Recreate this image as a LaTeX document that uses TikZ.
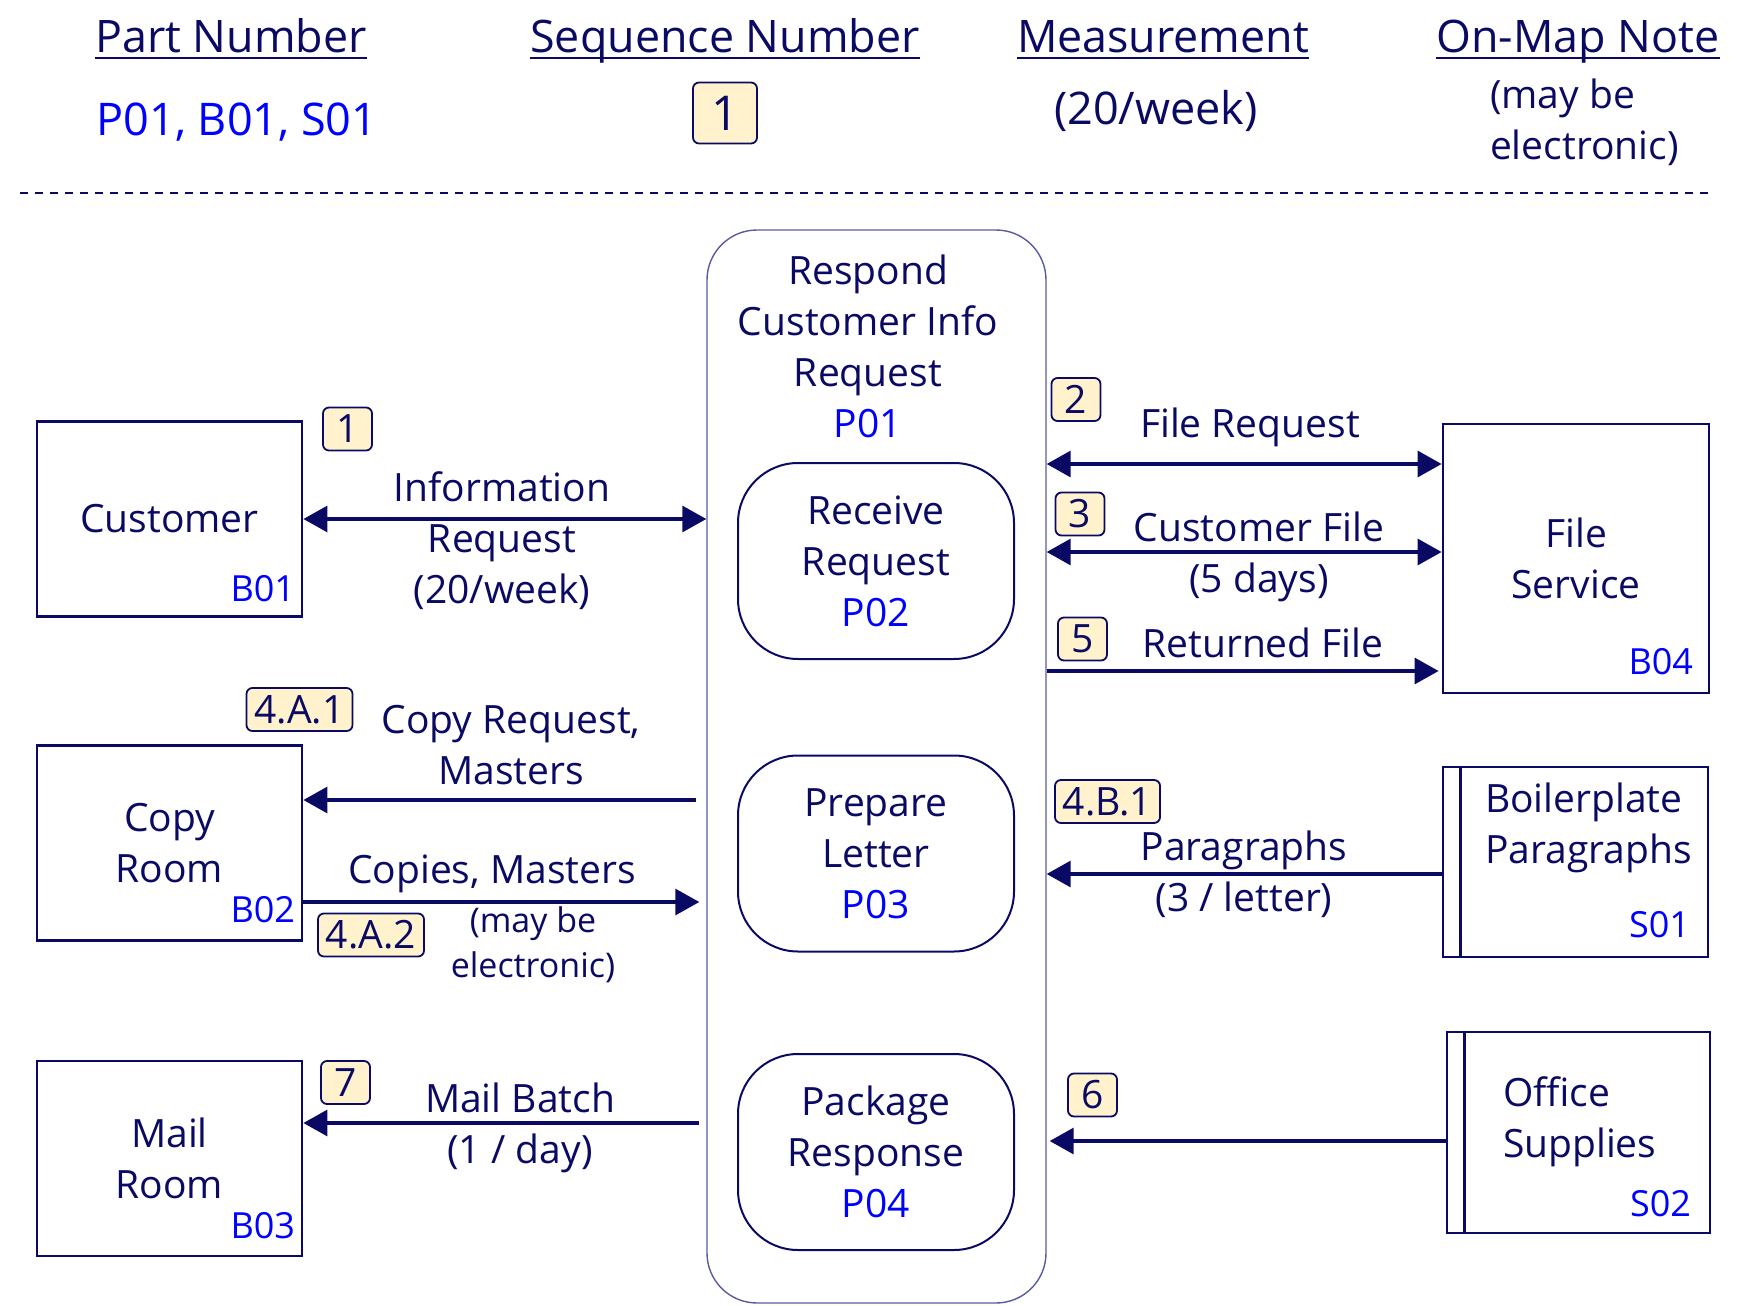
\documentclass[tikz,border=0pt]{standalone}
\usepackage{fontspec}
\setmainfont{Open Sans}
\usetikzlibrary{arrows.meta}
\definecolor{MapNavy}{HTML}{0A0A64}
\definecolor{MapBlue}{HTML}{0000FF}
\definecolor{MapCream}{HTML}{FFF2CC}
\definecolor{MapFrame}{HTML}{5A5AA0}

\begin{document}
\begin{tikzpicture}[
    x=0.5pt, y=-0.5pt,
    every node/.style={text=MapNavy, font=\fontsize{19.5}{25.5}\selectfont, align=center},
    head/.style={font=\fontsize{22.4}{27}\selectfont, inner xsep=0pt, anchor=base},
    big/.style={font=\fontsize{22.5}{27}\selectfont},
    small/.style={font=\fontsize{17}{22.5}\selectfont},
    uline/.style={draw=MapNavy, line width=1.1pt},
    extbox/.style={draw=MapNavy, line width=1.4pt, minimum width=132.5pt, minimum height=97.5pt},
    procbox/.style={draw=MapNavy, line width=1pt, rounded corners=30pt,
      minimum width=138pt, minimum height=98pt},
    code/.style={text=MapBlue, font=\fontsize{18}{22}\selectfont, inner sep=0pt, anchor=base east},
    badge/.style={draw=MapNavy, fill=MapCream, line width=0.9pt, rounded corners=3pt,
      inner xsep=4pt, inner ysep=0pt, minimum width=24.5pt, minimum height=21.5pt},
    flow/.style={draw=MapNavy, line width=1.6pt},
    oneway/.style={flow, -{Triangle[length=12pt,width=13pt]}},
    twoway/.style={flow, {Triangle[length=12pt,width=13pt]}-{Triangle[length=12pt,width=13pt]}}
  ]
    \useasboundingbox (0,0) rectangle (1742,1306);

    % legend
    \node[head] (hPart) at (231,53) {Part Number};
    \node[head] (hSeq) at (725,53) {Sequence Number};
    \node[head] (hMeas) at (1163,53) {Measurement};
    \node[head] (hNote) at (1578,53) {On-Map Note};
    \foreach \h in {hPart,hSeq,hMeas,hNote}
      \draw[uline] ([yshift=-2.5pt]\h.base west) -- ([yshift=-2.5pt]\h.base east);
    \node[big, text=MapBlue] (lPart) at (237,122) {P01, B01, S01};
    \node[badge, font=\fontsize{24}{28}\selectfont, minimum width=32pt, minimum height=30.5pt] (lSeq) at (725,113) {1};
    \node[big] (lMeas) at (1156,111) {(20/week)};
    \node[align=left, anchor=west] (lNote) at (1483,122) {(may be\\electronic)};
    \draw[MapNavy, line width=1pt, dash pattern=on 4pt off 3.5pt] (20,193) -- (1709,193);

    % process
    \node[draw=MapFrame, line width=0.7pt, rounded corners=25pt,
      minimum width=169.5pt, minimum height=536.5pt] (p01) at (876.5,766.5) {};
    \node (p01t) at (868,346) {Respond\\Customer Info\\Request\\\textcolor{MapBlue}{P01}};
    \node[procbox] (p02) at (876,561) {Receive\\Request\\\textcolor{MapBlue}{P02}};
    \node[procbox] (p03) at (876,853.5) {Prepare\\Letter\\\textcolor{MapBlue}{P03}};
    \node[procbox] (p04) at (876,1152) {Package\\Response\\\textcolor{MapBlue}{P04}};

    % outside parties
    \node[extbox] (b01) at (169.5,519) {Customer};
    \node[code] at ([xshift=-4pt,yshift=8pt]b01.south east) {B01};
    \node[extbox] (b02) at (169.5,843) {Copy\\Room};
    \node[code] at ([xshift=-4pt,yshift=9.5pt]b02.south east) {B02};
    \node[extbox] (b03) at (169.5,1158.5) {Mail\\Room};
    \node[code] at ([xshift=-4pt,yshift=9.5pt]b03.south east) {B03};
    \node[extbox, minimum width=133pt, minimum height=134.5pt] (b04) at (1576,558.5) {File\\Service};
    \node[code] at ([xshift=-8.5pt,yshift=10pt]b04.south east) {B04};

    % suppliers
    \node[extbox, minimum height=95pt] (s01) at (1575.5,862) {};
    \draw[MapNavy, line width=1.4pt] ([xshift=9.5pt]s01.north west) -- ([xshift=9.5pt]s01.south west);
    \node[align=left, anchor=west] (s01t) at (1478,828) {Boilerplate\\Paragraphs};
    \node[code] at ([xshift=-9.5pt,yshift=10.5pt]s01.south east) {S01};
    \node[extbox, minimum width=131.5pt, minimum height=100.5pt] (s02) at (1578.5,1132.5) {};
    \draw[MapNavy, line width=1.4pt] ([xshift=9.5pt]s02.north west) -- ([xshift=9.5pt]s02.south west);
    \node[align=left, anchor=west] (s02t) at (1496,1122) {Office\\Supplies};
    \node[code] at ([xshift=-10pt,yshift=9pt]s02.south east) {S02};

    % flows
    \draw[twoway] (b01.east) -- (b01.east -| p01.west);
    \node (f1) at (502,540.5) {Information\\Request\\(20/week)};
    \node[badge] (n1) at (347.5,429) {1};

    \draw[twoway] ([yshift=47.25pt]b04.west -| p01.east) -- ([yshift=47.25pt]b04.west);
    \node (f2) at (1250,427) {File Request};
    \node[badge] (n2) at (1076,399.5) {2};

    \draw[twoway] ([yshift=3.25pt]b04.west -| p01.east) -- ([yshift=3.25pt]b04.west);
    \node (f3) at (1259,556.5) {Customer File\\(5 days)};
    \node[badge] (n3) at (1080,514) {3};

    \draw[oneway, shorten >=1.5pt] ([yshift=-56.25pt]b04.west -| p01.east) -- ([yshift=-56.25pt]b04.west);
    \node (f5) at (1263,643) {Returned File};
    \node[badge] (n5) at (1082.5,639) {5};

    \draw[oneway, shorten <=5pt] ([yshift=21.5pt]b02.east -| p01.west) -- ([yshift=21.5pt]b02.east);
    \node (f4a1) at (511,745) {Copy Request,\\Masters};
    \node[badge] (n4a1) at (299.5,709.5) {4.A.1};

    \draw[oneway, shorten >=3.5pt] ([yshift=-29.5pt]b02.east) -- ([yshift=-29.5pt]b02.east -| p01.west);
    \node (f4a2) at (492,874) {Copies, Masters};
    \node[small] (f4a2n) at (533,944.5) {(may be\\electronic)};
    \node[badge] (n4a2) at (371,935) {4.A.2};

    \draw[oneway] ([yshift=-6pt]s01.west) -- ([yshift=-6pt]s01.west -| p01.east);
    \node (f4b1) at (1244,874.5) {Paragraphs\\(3 / letter)};
    \node[badge] (n4b1) at (1107.5,801.5) {4.B.1};

    \draw[oneway, shorten >=1.5pt] ([yshift=-4.25pt]s02.west) -- ([yshift=-4.25pt]s02.west -| p01.east);
    \node[badge] (n6) at (1092.5,1095) {6};

    \draw[oneway, shorten <=3.5pt] ([yshift=17.75pt]b03.east -| p01.west) -- ([yshift=17.75pt]b03.east);
    \node (f7) at (520,1127.5) {Mail Batch\\(1 / day)};
    \node[badge] (n7) at (345.5,1082.5) {7};
  \end{tikzpicture}
\end{document}
